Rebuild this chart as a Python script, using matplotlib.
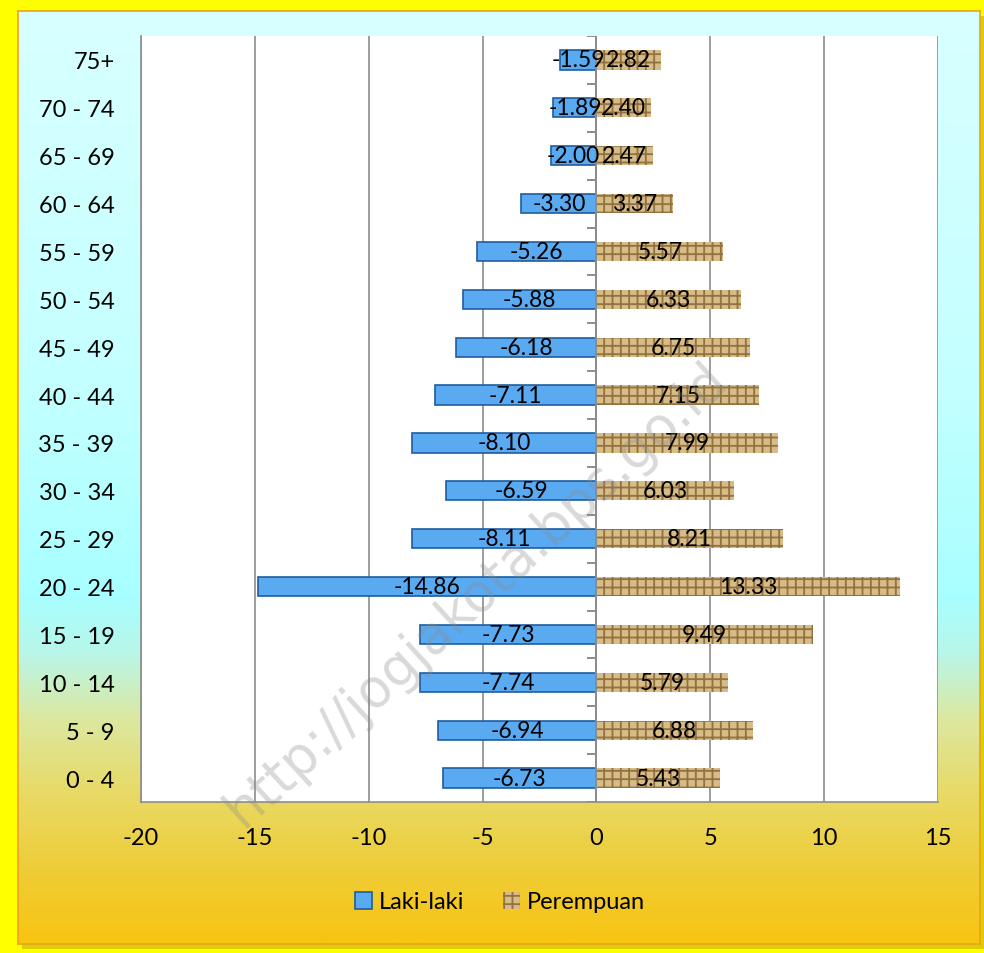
import numpy as np
import matplotlib.pyplot as plt
from matplotlib.colors import LinearSegmentedColormap

plt.rcParams['font.family'] = ['Lato', 'DejaVu Sans']

# Piramida penduduk menurut kelompok umur (persen)
kelompok_umur = ['0 - 4', '5 - 9', '10 - 14', '15 - 19', '20 - 24', '25 - 29',
                 '30 - 34', '35 - 39', '40 - 44', '45 - 49', '50 - 54', '55 - 59',
                 '60 - 64', '65 - 69', '70 - 74', '75+']
laki_laki = [-6.73, -6.94, -7.74, -7.73, -14.86, -8.11, -6.59, -8.10,
             -7.11, -6.18, -5.88, -5.26, -3.30, -2.00, -1.89, -1.59]
perempuan = [5.43, 6.88, 5.79, 9.49, 13.33, 8.21, 6.03, 7.99,
             7.15, 6.75, 6.33, 5.57, 3.37, 2.47, 2.40, 2.82]
x_ticks = [-20, -15, -10, -5, 0, 5, 10, 15]

W, H = 984, 954
fig = plt.figure(figsize=(W / 100, H / 100), dpi=100)
fig.patch.set_facecolor('#FFFF00')

# panel latar dengan gradasi warna
px0, py0, px1, py1 = 18, 12, 980, 945
shadow = fig.add_axes([(px0 + 4) / W, 1 - (py1 + 5) / H, (px1 - px0) / W, (py1 - py0) / H])
shadow.set_facecolor('#D8D000')
shadow.set_xticks([]); shadow.set_yticks([])
for s in shadow.spines.values():
    s.set_visible(False)

bg = fig.add_axes([px0 / W, 1 - py1 / H, (px1 - px0) / W, (py1 - py0) / H])
cmap = LinearSegmentedColormap.from_list('bg', [
    (0.0, '#D8FFFF'), (0.40, '#C4FFFF'), (0.63, '#A8FFFF'), (0.69, '#B8F6E8'),
    (0.76, '#DCE8A0'), (0.84, '#E8DA66'), (0.92, '#EECD38'), (1.0, '#F8C412')])
grad = np.linspace(0, 1, 400).reshape(-1, 1)
bg.imshow(grad, aspect='auto', cmap=cmap, extent=[0, 1, 1, 0])
bg.set_xticks([]); bg.set_yticks([])
for s in bg.spines.values():
    s.set_color('#F0A020')
    s.set_linewidth(1.2)

ax = fig.add_axes([141 / W, 1 - 803 / H, (938 - 141) / W, (803 - 37) / H])
ax.set_facecolor('white')

y = np.arange(len(kelompok_umur))
bh = 0.4
b1 = ax.barh(y, laki_laki, height=bh, color='#5AAAF2', edgecolor='#1F5D9E',
             linewidth=1.2, label='Laki-laki', zorder=3)
plt.rcParams['hatch.linewidth'] = 1.3
b2 = ax.barh(y, perempuan, height=bh, color='#D6BC86', edgecolor='#937140',
             hatch='++', linewidth=0, label='Perempuan', zorder=3)

for bars, vals in ((b1, laki_laki), (b2, perempuan)):
    for rect, v in zip(bars, vals):
        ax.text(rect.get_x() + rect.get_width() / 2, rect.get_y() + rect.get_height() / 2,
                f'{v:.2f}', ha='center', va='center', fontsize=16.5, color='black', zorder=5)

ax.set_xlim(-20, 15)
ax.set_ylim(-0.5, len(kelompok_umur) - 0.5)
ax.set_xticks(x_ticks)
ax.set_xticklabels([str(t) for t in x_ticks], fontsize=17)
ax.set_yticks(y)
ax.set_yticklabels(kelompok_umur, fontsize=17)
ax.tick_params(axis='both', length=0)
ax.tick_params(axis='x', pad=18)
ax.tick_params(axis='y', pad=19)
ax.grid(axis='x', color='#8C8C8C', linewidth=1.2, zorder=1)
for side in ('top', 'right'):
    ax.spines[side].set_visible(False)
ax.spines['left'].set_color('#8C8C8C')
ax.spines['left'].set_linewidth(1.2)
ax.spines['bottom'].set_color('#8C8C8C')
ax.spines['bottom'].set_linewidth(1.2)

# sumbu kategori di posisi nol dengan tanda batas kelompok
ax.axvline(0, color='#8C8C8C', linewidth=1.4, zorder=4)
batas = np.arange(len(kelompok_umur) + 1) - 0.5
ax.hlines(batas, -0.4, 0, color='#8C8C8C', linewidth=1.4, zorder=4)

# tanda air
ax.text(-5.3, 3.85, 'http://jogjakota.bps.go.id', rotation=42.5, fontsize=38,
        color='#8A8A8A', alpha=0.32, ha='center', va='center', zorder=6,
        family='DejaVu Sans')

fig.legend(handles=[b1, b2], loc='center', bbox_to_anchor=(500 / W, 1 - 903 / H),
           ncol=2, frameon=False, fontsize=17, handlelength=0.75, handleheight=0.75,
           handletextpad=0.3, columnspacing=1.6)

fig.savefig('out.png', dpi=100, facecolor=fig.get_facecolor())
